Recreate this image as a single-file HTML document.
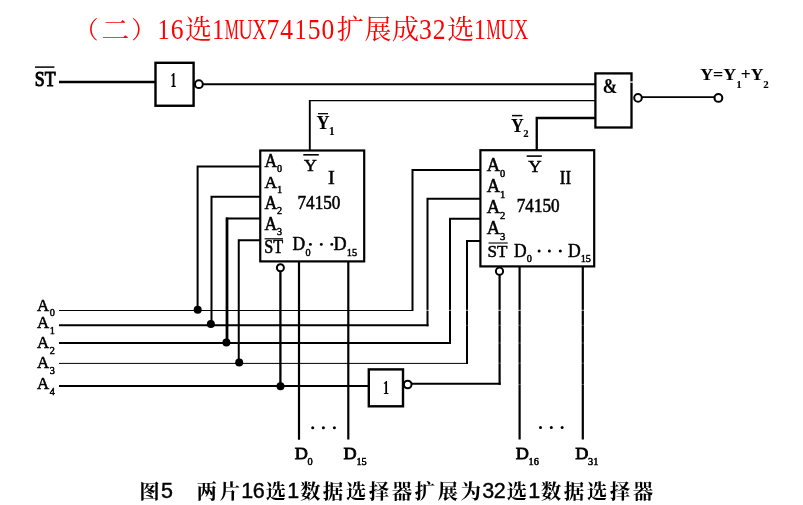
<!DOCTYPE html>
<html lang="zh"><head><meta charset="utf-8"><title>16选1MUX74150扩展成32选1MUX</title>
<style>
html,body{margin:0;padding:0;background:#fff;}
body{width:803px;height:505px;overflow:hidden;}
svg{display:block;}
text{white-space:pre;}
.title{font-family:"Liberation Serif","Noto Serif CJK SC",serif;}
.cap{font-family:"Liberation Sans","Noto Serif CJK SC",serif;font-weight:700;}
.cap .d{font-family:"Liberation Sans",sans-serif;font-weight:400;font-size:21.5px;stroke:#000;stroke-width:0.4px;}
</style></head>
<body>
<svg width="803" height="505" viewBox="0 0 803 505" style="will-change:transform">
<rect width="803" height="505" fill="#fff"/>
<line x1="59" y1="81.9" x2="155" y2="81.9" stroke="#000" stroke-width="2.5" />
<rect x="155.5" y="62.8" width="38.10" height="42.95" fill="none" stroke="#000" stroke-width="2.4"/>
<line x1="203" y1="84.25" x2="596" y2="84.25" stroke="#000" stroke-width="2" />
<circle cx="198.9" cy="84.2" r="3.9" fill="#fff" stroke="#000" stroke-width="2.0"/>
<polyline points="309.8,150 309.8,100.6" fill="none" stroke="#000" stroke-width="1.9" stroke-linejoin="miter"/>
<polyline points="308.9,100.6 596,100.6" fill="none" stroke="#000" stroke-width="1.2" stroke-linejoin="miter"/>
<polyline points="536.75,150 536.75,118 596,118" fill="none" stroke="#000" stroke-width="2.3" stroke-linejoin="miter"/>
<rect x="595.4" y="73.4" width="36.10" height="54.10" fill="none" stroke="#000" stroke-width="2.3"/>
<line x1="642" y1="97.1" x2="714" y2="97.1" stroke="#000" stroke-width="1.9" />
<line x1="631.5" y1="81.3" x2="631.5" y2="82.9" stroke="#fff" stroke-width="3.2" opacity="0.8"/>
<circle cx="638.0" cy="97.9" r="3.8" fill="#fff" stroke="#000" stroke-width="2.0"/>
<circle cx="718.4" cy="97.9" r="3.9" fill="#fff" stroke="#000" stroke-width="2.1"/>
<line x1="59" y1="310.5" x2="413" y2="310.5" stroke="#000" stroke-width="1" />
<line x1="59" y1="325.25" x2="428.5" y2="325.25" stroke="#000" stroke-width="2" />
<line x1="59" y1="343.0" x2="451" y2="343.0" stroke="#000" stroke-width="2" />
<line x1="59" y1="363.4" x2="468" y2="363.4" stroke="#000" stroke-width="1" />
<line x1="59" y1="386" x2="369" y2="386" stroke="#000" stroke-width="2" />
<polyline points="197.6,310 197.6,166.5 260,166.5" fill="none" stroke="#000" stroke-width="2" stroke-linejoin="miter"/>
<polyline points="211.5,324 211.5,196.75 260,196.75" fill="none" stroke="#000" stroke-width="2" stroke-linejoin="miter"/>
<line x1="227" y1="342.5" x2="227" y2="217.5" stroke="#000" stroke-width="2.8" />
<line x1="226" y1="218.5" x2="260" y2="218.5" stroke="#000" stroke-width="2" />
<polyline points="238.75,363 238.75,240.25 260,240.25" fill="none" stroke="#000" stroke-width="2" stroke-linejoin="miter"/>
<line x1="280.4" y1="386" x2="280.4" y2="271" stroke="#000" stroke-width="2.3" />
<line x1="299.0" y1="261" x2="299.0" y2="439.75" stroke="#000" stroke-width="2.2" />
<line x1="348.3" y1="261" x2="348.3" y2="439.5" stroke="#000" stroke-width="2.2" />
<polyline points="412.5,311 412.5,170.0 480,170.0" fill="none" stroke="#000" stroke-width="2" stroke-linejoin="miter"/>
<polyline points="427.5,326.25 427.5,198.7 480,198.7" fill="none" stroke="#000" stroke-width="2" stroke-linejoin="miter"/>
<polyline points="450,344.0 450,218.75 480,218.75" fill="none" stroke="#000" stroke-width="2" stroke-linejoin="miter"/>
<polyline points="467,363.9 467,240.9 480,240.9" fill="none" stroke="#000" stroke-width="2" stroke-linejoin="miter"/>
<line x1="412" y1="383.8" x2="500.7" y2="383.8" stroke="#000" stroke-width="2.0" />
<line x1="499.6" y1="384.8" x2="499.6" y2="274" stroke="#000" stroke-width="2.2" />
<line x1="519.6" y1="267" x2="519.6" y2="439.5" stroke="#000" stroke-width="2.2" />
<line x1="582.8" y1="267" x2="582.8" y2="439.5" stroke="#000" stroke-width="2.2" />
<line x1="414" y1="310.3" x2="590" y2="310.3" stroke="#fff" stroke-width="0.9" opacity="0.75"/>
<line x1="452" y1="325.3" x2="590" y2="325.3" stroke="#fff" stroke-width="0.8" opacity="0.35"/>
<line x1="469" y1="343" x2="590" y2="343" stroke="#fff" stroke-width="0.8" opacity="0.35"/>
<line x1="469" y1="363.2" x2="590" y2="363.2" stroke="#fff" stroke-width="0.8" opacity="0.35"/>
<line x1="510" y1="384.5" x2="590" y2="384.5" stroke="#fff" stroke-width="0.8" opacity="0.35"/>
<rect x="260.25" y="150.5" width="103.95" height="110.90" fill="none" stroke="#000" stroke-width="2.2"/>
<rect x="480.4" y="150.2" width="113.80" height="116.20" fill="none" stroke="#000" stroke-width="2.2"/>
<rect x="368.8" y="369.4" width="34.20" height="36.90" fill="none" stroke="#000" stroke-width="2.4"/>
<circle cx="407.7" cy="384.5" r="3.8" fill="#fff" stroke="#000" stroke-width="2.0"/>
<circle cx="280.4" cy="267.8" r="3.5" fill="#fff" stroke="#000" stroke-width="2.0"/>
<circle cx="499.5" cy="271.2" r="3.6" fill="#fff" stroke="#000" stroke-width="2.0"/>
<circle cx="197.7" cy="309.8" r="4.0" fill="#000"/>
<circle cx="210.9" cy="323.9" r="4.0" fill="#000"/>
<circle cx="226.4" cy="342.5" r="4.0" fill="#000"/>
<circle cx="239.2" cy="362.5" r="4.0" fill="#000"/>
<circle cx="280.5" cy="386.25" r="4.0" fill="#000"/>
<text transform="translate(34.80 86.10) scale(1 1.168)" font-family='"Liberation Serif", serif' font-size="17.77" font-weight="normal" fill="#000" stroke="#000" stroke-width="0.9">ST</text>
<line x1="35" y1="67.1" x2="54.4" y2="67.1" stroke="#000" stroke-width="1.5" />
<text transform="translate(170.60 87.20) scale(1 1.724)" font-family='"Liberation Serif", serif' font-size="11.60" font-weight="bold" fill="#000" stroke="#000" stroke-width="0.1">1</text>
<text transform="translate(602.70 93.00) scale(1 1.195)" font-family='"Liberation Serif", serif' font-size="17.37" font-weight="bold" fill="#000" stroke="#000" stroke-width="0.1">&amp;</text>
<text transform="translate(700.20 80.40) scale(1 0.923)" font-family='"Liberation Serif", serif' font-size="17.87" font-weight="bold" fill="#000" stroke="#000" stroke-width="0.1">Y=Y<tspan x="36.00" y="7.69" font-size="10.93" font-weight="bold" stroke-width="0.1">1</tspan><tspan x="40.60" y="0" font-size="17.52">+Y</tspan><tspan x="63.00" y="7.69" font-size="10.93" font-weight="bold" stroke-width="0.1">2</tspan></text>
<text transform="translate(316.60 129.20) scale(1 1.032)" font-family='"Liberation Serif", serif' font-size="18.06" font-weight="bold" fill="#000" stroke="#000" stroke-width="0.1">Y<tspan x="12.40" y="5.62" font-size="11.32" font-weight="bold" stroke-width="0.1">1</tspan></text>
<line x1="318" y1="113.7" x2="328" y2="113.7" stroke="#000" stroke-width="1.3" />
<text transform="translate(510.90 131.90) scale(1 1.056)" font-family='"Liberation Serif", serif' font-size="17.64" font-weight="bold" fill="#000" stroke="#000" stroke-width="0.1">Y<tspan x="12.40" y="5.11" font-size="10.70" font-weight="bold" stroke-width="0.1">2</tspan></text>
<line x1="512" y1="115.6" x2="522.3" y2="115.6" stroke="#000" stroke-width="1.5" />
<text transform="translate(264.40 167.10) scale(1 1.065)" font-family='"Liberation Serif", serif' font-size="17.36" font-weight="normal" fill="#000" stroke="#000" stroke-width="0.5">A<tspan x="12.50" y="4.60" font-size="10.18" font-weight="normal" stroke-width="0.5">0</tspan></text>
<text transform="translate(264.40 187.60) scale(1 1.012)" font-family='"Liberation Serif", serif' font-size="17.36" font-weight="normal" fill="#000" stroke="#000" stroke-width="0.5">A<tspan x="12.50" y="5.33" font-size="10.44" font-weight="normal" stroke-width="0.5">1</tspan></text>
<text transform="translate(264.40 208.60) scale(1 1.065)" font-family='"Liberation Serif", serif' font-size="17.36" font-weight="normal" fill="#000" stroke="#000" stroke-width="0.5">A<tspan x="12.50" y="5.45" font-size="10.18" font-weight="normal" stroke-width="0.5">2</tspan></text>
<text transform="translate(264.40 230.00) scale(1 1.065)" font-family='"Liberation Serif", serif' font-size="17.36" font-weight="normal" fill="#000" stroke="#000" stroke-width="0.5">A<tspan x="12.50" y="5.07" font-size="10.18" font-weight="normal" stroke-width="0.5">3</tspan></text>
<text transform="translate(486.70 171.20) scale(1 1.025)" font-family='"Liberation Serif", serif' font-size="18.47" font-weight="normal" fill="#000" stroke="#000" stroke-width="0.5">A<tspan x="13.30" y="5.27" font-size="10.37" font-weight="normal" stroke-width="0.5">0</tspan></text>
<text transform="translate(486.70 192.20) scale(1 1.001)" font-family='"Liberation Serif", serif' font-size="18.47" font-weight="normal" fill="#000" stroke="#000" stroke-width="0.5">A<tspan x="13.30" y="5.80" font-size="10.50" font-weight="normal" stroke-width="0.5">1</tspan></text>
<text transform="translate(486.70 212.90) scale(1 0.992)" font-family='"Liberation Serif", serif' font-size="18.47" font-weight="normal" fill="#000" stroke="#000" stroke-width="0.5">A<tspan x="13.30" y="6.05" font-size="10.54" font-weight="normal" stroke-width="0.5">2</tspan></text>
<text transform="translate(486.70 234.30) scale(1 0.976)" font-family='"Liberation Serif", serif' font-size="18.47" font-weight="normal" fill="#000" stroke="#000" stroke-width="0.5">A<tspan x="13.30" y="5.94" font-size="10.63" font-weight="normal" stroke-width="0.5">3</tspan></text>
<text transform="translate(264.20 253.30) scale(1 1.108)" font-family='"Liberation Serif", serif' font-size="16.14" font-weight="normal" fill="#000" stroke="#000" stroke-width="0.5">ST</text>
<line x1="264.6" y1="238.8" x2="283.0" y2="238.8" stroke="#000" stroke-width="1.2" />
<text transform="translate(487.50 257.40) scale(1 1.011)" font-family='"Liberation Serif", serif' font-size="17.08" font-weight="normal" fill="#000" stroke="#000" stroke-width="0.5">ST</text>
<line x1="488.5" y1="243" x2="507.8" y2="243" stroke="#000" stroke-width="1.1" />
<text transform="translate(304.00 171.00) scale(1 0.970)" font-family='"Liberation Serif", serif' font-size="17.78" font-weight="normal" fill="#000" stroke="#000" stroke-width="0.5">Y</text>
<line x1="303.3" y1="154.8" x2="318.8" y2="154.8" stroke="#000" stroke-width="1.6" />
<text transform="translate(528.30 171.90) scale(1 0.959)" font-family='"Liberation Serif", serif' font-size="18.47" font-weight="normal" fill="#000" stroke="#000" stroke-width="0.5">Y</text>
<line x1="526.7" y1="156.1" x2="541.8" y2="156.1" stroke="#000" stroke-width="1.6" />
<text transform="translate(328.00 183.70) scale(1 0.910)" font-family='"Liberation Serif", serif' font-size="20.30" font-weight="normal" fill="#000" stroke="#000" stroke-width="0.5">I</text>
<text transform="translate(559.80 183.70) scale(1 1.097)" font-family='"Liberation Serif", serif' font-size="16.84" font-weight="normal" fill="#000" stroke="#000" stroke-width="0.5">II</text>
<text transform="translate(297.50 209.30) scale(1 1.078)" font-family='"Liberation Serif", serif' font-size="17.16" font-weight="normal" fill="#000" stroke="#000" stroke-width="0.5">74150</text>
<text transform="translate(516.80 211.60) scale(1 1.043)" font-family='"Liberation Serif", serif' font-size="17.16" font-weight="normal" fill="#000" stroke="#000" stroke-width="0.5">74150</text>
<text transform="translate(292.50 250.20) scale(1 1.064)" font-family='"Liberation Serif", serif' font-size="17.50" font-weight="normal" fill="#000" stroke="#000" stroke-width="0.5">D<tspan x="13.00" y="5.07" font-size="10.18" font-weight="normal" stroke-width="0.5">0</tspan></text>
<text transform="translate(333.60 250.20) scale(1 1.024)" font-family='"Liberation Serif", serif' font-size="18.19" font-weight="normal" fill="#000" stroke="#000" stroke-width="0.5">D<tspan x="13.20" y="5.27" font-size="10.38" font-weight="normal" stroke-width="0.5">15</tspan></text>
<circle cx="310.4" cy="244.4" r="1.45" fill="#000"/>
<circle cx="321.3" cy="244.4" r="1.45" fill="#000"/>
<circle cx="331.8" cy="244.4" r="1.45" fill="#000"/>
<text transform="translate(514.10 256.80) scale(1 1.056)" font-family='"Liberation Serif", serif' font-size="17.50" font-weight="normal" fill="#000" stroke="#000" stroke-width="0.5">D<tspan x="12.70" y="4.93" font-size="10.22" font-weight="normal" stroke-width="0.5">0</tspan></text>
<text transform="translate(567.90 256.80) scale(1 1.047)" font-family='"Liberation Serif", serif' font-size="17.64" font-weight="normal" fill="#000" stroke="#000" stroke-width="0.5">D<tspan x="12.80" y="4.97" font-size="10.26" font-weight="normal" stroke-width="0.5">15</tspan></text>
<circle cx="539.1" cy="251.1" r="1.5" fill="#000"/>
<circle cx="549.4" cy="251.1" r="1.5" fill="#000"/>
<circle cx="560.3" cy="251.1" r="1.5" fill="#000"/>
<text transform="translate(383.00 393.60) scale(1 1.641)" font-family='"Liberation Serif", serif' font-size="12.00" font-weight="bold" fill="#000" stroke="#000" stroke-width="0.1">1</text>
<text transform="translate(37.10 310.90) scale(1 1.055)" font-family='"Liberation Serif", serif' font-size="16.81" font-weight="normal" fill="#000" stroke="#000" stroke-width="0.5">A<tspan x="12.70" y="5.02" font-size="10.22" font-weight="normal" stroke-width="0.5">0</tspan></text>
<text transform="translate(37.10 328.00) scale(1 1.055)" font-family='"Liberation Serif", serif' font-size="16.81" font-weight="normal" fill="#000" stroke="#000" stroke-width="0.5">A<tspan x="12.70" y="5.50" font-size="10.22" font-weight="normal" stroke-width="0.5">1</tspan></text>
<text transform="translate(37.10 348.00) scale(1 1.055)" font-family='"Liberation Serif", serif' font-size="16.81" font-weight="normal" fill="#000" stroke="#000" stroke-width="0.5">A<tspan x="12.70" y="5.31" font-size="10.22" font-weight="normal" stroke-width="0.5">2</tspan></text>
<text transform="translate(37.10 367.90) scale(1 1.055)" font-family='"Liberation Serif", serif' font-size="16.81" font-weight="normal" fill="#000" stroke="#000" stroke-width="0.5">A<tspan x="12.70" y="5.31" font-size="10.22" font-weight="normal" stroke-width="0.5">3</tspan></text>
<text transform="translate(37.10 388.60) scale(1 1.055)" font-family='"Liberation Serif", serif' font-size="16.81" font-weight="normal" fill="#000" stroke="#000" stroke-width="0.5">A<tspan x="12.70" y="5.69" font-size="10.22" font-weight="normal" stroke-width="0.5">4</tspan></text>
<text transform="translate(294.70 459.00) scale(1 0.973)" font-family='"Liberation Serif", serif' font-size="18.19" font-weight="normal" fill="#000" stroke="#000" stroke-width="0.85">D<tspan x="12.80" y="5.86" font-size="10.34" font-weight="normal" stroke-width="0.55">0</tspan></text>
<text transform="translate(343.60 459.00) scale(1 0.973)" font-family='"Liberation Serif", serif' font-size="18.19" font-weight="normal" fill="#000" stroke="#000" stroke-width="0.85">D<tspan x="12.80" y="5.86" font-size="10.34" font-weight="normal" stroke-width="0.55">15</tspan></text>
<text transform="translate(515.80 459.00) scale(1 0.973)" font-family='"Liberation Serif", serif' font-size="18.19" font-weight="normal" fill="#000" stroke="#000" stroke-width="0.85">D<tspan x="12.80" y="5.86" font-size="10.34" font-weight="normal" stroke-width="0.55">16</tspan></text>
<text transform="translate(575.20 459.00) scale(1 0.973)" font-family='"Liberation Serif", serif' font-size="18.19" font-weight="normal" fill="#000" stroke="#000" stroke-width="0.85">D<tspan x="12.80" y="5.86" font-size="10.34" font-weight="normal" stroke-width="0.55">31</tspan></text>
<circle cx="312.7" cy="427.7" r="1.5" fill="#000"/>
<circle cx="323.4" cy="427.7" r="1.5" fill="#000"/>
<circle cx="334.4" cy="427.7" r="1.5" fill="#000"/>
<circle cx="540.5" cy="427.5" r="1.5" fill="#000"/>
<circle cx="551.3" cy="427.5" r="1.5" fill="#000"/>
<circle cx="562.1" cy="427.5" r="1.5" fill="#000"/>
<text class="title" font-size="29.6" fill="#ff0000"><tspan x="74.40" y="37.85" font-size="24">（</tspan><tspan x="101.59" y="39.60" font-size="27.0" textLength="27.81" lengthAdjust="spacingAndGlyphs">二</tspan><tspan x="131.30" y="37.85" font-size="24">）</tspan><tspan x="157.41" y="38.80" textLength="12.14" lengthAdjust="spacingAndGlyphs">1</tspan><tspan x="170.83" y="38.80" textLength="12.80" lengthAdjust="spacingAndGlyphs">6</tspan><tspan x="185.00" y="38.80" font-size="27.0">选</tspan><tspan x="211.91" y="38.80" textLength="12.14" lengthAdjust="spacingAndGlyphs">1</tspan><tspan x="224.63" y="38.80" textLength="14.19" lengthAdjust="spacingAndGlyphs">M</tspan><tspan x="238.38" y="38.80" textLength="14.24" lengthAdjust="spacingAndGlyphs">U</tspan><tspan x="252.13" y="38.80" textLength="14.24" lengthAdjust="spacingAndGlyphs">X</tspan><tspan x="266.58" y="38.80" textLength="12.80" lengthAdjust="spacingAndGlyphs">7</tspan><tspan x="280.33" y="38.80" textLength="12.80" lengthAdjust="spacingAndGlyphs">4</tspan><tspan x="294.41" y="38.80" textLength="12.14" lengthAdjust="spacingAndGlyphs">1</tspan><tspan x="307.83" y="38.80" textLength="12.80" lengthAdjust="spacingAndGlyphs">5</tspan><tspan x="321.58" y="38.80" textLength="12.80" lengthAdjust="spacingAndGlyphs">0</tspan><tspan x="336.80" y="38.80" font-size="27.0">扩</tspan><tspan x="364.40" y="38.80" font-size="27.0">展</tspan><tspan x="392.00" y="38.80" font-size="27.0">成</tspan><tspan x="419.08" y="38.80" textLength="12.80" lengthAdjust="spacingAndGlyphs">3</tspan><tspan x="432.83" y="38.80" textLength="12.80" lengthAdjust="spacingAndGlyphs">2</tspan><tspan x="447.20" y="38.80" font-size="27.0">选</tspan><tspan x="473.81" y="38.80" textLength="12.14" lengthAdjust="spacingAndGlyphs">1</tspan><tspan x="486.53" y="38.80" textLength="14.19" lengthAdjust="spacingAndGlyphs">M</tspan><tspan x="500.28" y="38.80" textLength="14.24" lengthAdjust="spacingAndGlyphs">U</tspan><tspan x="514.02" y="38.80" textLength="14.24" lengthAdjust="spacingAndGlyphs">X</tspan></text>
<text class="cap" font-size="20.5"><tspan x="139.22" y="499.00" letter-spacing="2.45">图</tspan><tspan class="d" x="160.95" y="497.80" letter-spacing="-0.48">5</tspan><tspan x="173.65" y="499.00" letter-spacing="2.45">　两片</tspan><tspan class="d" x="241.27" y="497.80" letter-spacing="-0.48">16</tspan><tspan x="265.45" y="499.00" letter-spacing="2.45">选</tspan><tspan class="d" x="287.17" y="497.80" letter-spacing="-0.48">1</tspan><tspan x="299.88" y="499.00" letter-spacing="2.45">数据选择器扩展为</tspan><tspan class="d" x="482.25" y="497.80" letter-spacing="-0.48">32</tspan><tspan x="506.43" y="499.00" letter-spacing="2.45">选</tspan><tspan class="d" x="528.15" y="497.80" letter-spacing="-0.48">1</tspan><tspan x="540.85" y="499.00" letter-spacing="2.45">数据选择器</tspan></text>
</svg>
</body></html>
